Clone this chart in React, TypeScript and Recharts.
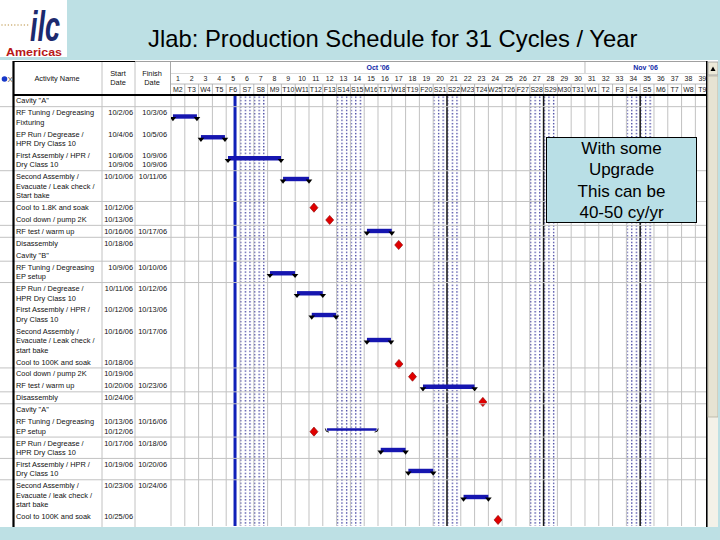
import React from "react";
import { ScatterChart, Scatter, XAxis, YAxis, ReferenceArea, ReferenceLine } from "recharts";

// ---------------- data ----------------
// timescale (one column per day, first column = Mon Oct 2 2006)
const dayLabels = [
  "M2", "T3", "W4", "T5", "F6", "S7", "S8", "M9", "T10", "W11", "T12", "F13", "S14", "S15",
  "M16", "T17", "W18", "T19", "F20", "S21", "S22", "M23", "T24", "W25", "T26", "F27", "S28",
  "S29", "M30", "T31", "W1", "T2", "F3", "S4", "S5", "M6", "T7", "W8", "T9",
];
const monthLabels = ["Oct '06", "Nov '06"];
const monthStart = [0, 30];
const visibleDays = 38.77;
const weekendStart = [5, 12, 19, 26, 33];
const weekLines = [20, 27, 34];
const statusDay = 4.64;

// table: one entry per text line
const activityNames = [
  'Cavity "A"', "RF Tuning / Degreasing", "Fixturing", "EP Run / Degrease /", "HPR Dry Class 10",
  "First Assembly / HPR /", "Dry Class 10", "Second Assembly /", "Evacuate / Leak check /", "Start bake",
  "Cool to 1.8K and soak", "Cool down / pump 2K", "RF test / warm up", "Disassembly", 'Cavity "B"',
  "RF Tuning / Degreasing", "EP setup", "EP Run / Degrease /", "HPR Dry Class 10",
  "First Assembly / HPR /", "Dry Class 10", "Second Assembly /", "Evacuate / Leak check /", "start bake",
  "Cool to 100K and soak", "Cool down / pump 2K", "RF test / warm up", "Disassembly", 'Cavity "A"',
  "RF Tuning / Degreasing", "EP setup", "EP Run / Degrease /", "HPR Dry Class 10",
  "First Assembly / HPR /", "Dry Class 10", "Second Assembly /", "Evacuate / leak check /", "start bake",
  "Cool to 100K and soak",
];
const startDates = [
  "", "10/2/06", "", "10/4/06", "", "10/6/06", "10/9/06", "10/10/06", "", "", "10/12/06", "10/13/06",
  "10/16/06", "10/18/06", "", "10/9/06", "", "10/11/06", "", "10/12/06", "", "10/16/06", "", "",
  "10/18/06", "10/19/06", "10/20/06", "10/24/06", "", "10/13/06", "10/12/06", "10/17/06", "",
  "10/19/06", "", "10/23/06", "", "", "10/25/06",
];
const finishDates = [
  "", "10/3/06", "", "10/5/06", "", "10/9/06", "10/9/06", "10/11/06", "", "", "", "", "10/17/06", "",
  "", "10/10/06", "", "10/12/06", "", "10/13/06", "", "10/17/06", "", "", "", "", "10/23/06", "", "",
  "10/16/06", "", "10/18/06", "", "10/20/06", "", "10/24/06", "", "", "",
];
// how many text lines each table row holds, and after which line a ruled separator is drawn
const rowLines = [1, 2, 2, 2, 3, 1, 1, 1, 1, 1, 2, 2, 2, 3, 1, 1, 1, 1, 1, 2, 2, 2, 3, 1];
const separatorAfterLine = [1, 7, 10, 12, 13, 15, 17, 25, 27, 28, 31, 33, 35];

// task bars: days from Oct 2, vertical position in table-line units
const barStart = [0.14, 2.17, 4.13, 8.12, 14.2, 7.17, 9.13, 10.2, 14.2, 18.26, 11.3, 15.2, 17.2, 21.2];
const barEnd = [1.88, 3.91, 7.97, 10.0, 16.0, 8.99, 11.0, 11.96, 15.94, 22.0, 14.9, 17.0, 19.0, 23.0];
const barRow = [1.68, 3.89, 6.13, 8.33, 13.86, 18.36, 20.49, 22.8, 25.46, 30.43, 34.98, 37.16, 39.39, 42.16];
const barKind = ["summary", "summary", "summary", "summary", "summary", "summary", "summary", "summary",
  "summary", "summary", "thin", "summary", "summary", "summary"];

// milestones
const milestoneDay = [10.36, 11.5, 16.5, 16.52, 17.5, 22.6, 10.36, 23.7];
const milestoneRow = [11.38, 12.69, 15.35, 28.01, 29.36, 32.05, 35.21, 44.6];

// ---------------- layout / style ----------------
const FONT = "'Liberation Sans', Arial, Helvetica, sans-serif";
const BAND = "#bde0e4";
const PLOT_L = 171;
const PLOT_R = 706;
const COL = (PLOT_R - PLOT_L) / visibleDays;
const GRID = "#c2c2c2";
const ROW_EXTRA = 0.271; // extra space between table rows, in line units

const linePos: number[] = [];
rowLines.forEach((n, r) => {
  for (let j = 0; j < n; j++) linePos.push(linePos.length + r * ROW_EXTRA);
});
const separatorPos = separatorAfterLine.map((n) => (linePos[n - 1] + linePos[n]) / 2);
const lineIndex = new Map<number, number>();
linePos.forEach((p, i) => lineIndex.set(p, i));
const yTicks = [...linePos, ...separatorPos];
const colCenters = dayLabels.map((_, i) => i + 0.5);
const dayBounds = dayLabels.map((_, i) => i);

const bars = barStart.map((s, k) => ({
  data: [
    { x: s, y: barRow[k], end: false, kind: barKind[k] },
    { x: barEnd[k], y: barRow[k], end: true, kind: barKind[k] },
  ],
  kind: barKind[k],
}));
const milestones = milestoneDay.map((d, k) => ({ x: d, y: milestoneRow[k] }));

const DayTick = (props: any) => {
  const { x, payload } = props;
  const i = Math.round(payload.value - 0.5);
  const parts: any[] = [];
  parts.push(
    <text key="n" x={x} y={80.5} textAnchor="middle" fontSize={7} fontFamily={FONT} fill="#222">
      {String(i + 1)}
    </text>
  );
  parts.push(
    <text key="d" x={x} y={92} textAnchor="middle" fontSize={7} fontFamily={FONT} fill="#222">
      {dayLabels[i]}
    </text>
  );
  parts.push(<line key="s" x1={x + COL / 2} x2={x + COL / 2} y1={84} y2={95} stroke="#a8a8a8" strokeWidth={0.8} />);
  monthLabels.forEach((m, k) => {
    const s = monthStart[k];
    const e = k + 1 < monthStart.length ? monthStart[k + 1] : visibleDays;
    const c = (s + e) / 2;
    if (i === Math.floor(c)) {
      parts.push(
        <text key={"m" + k} x={x + (c - (i + 0.5)) * COL} y={70} textAnchor="middle" fontSize={7}
          fontFamily={FONT} fill="#1028a8" fontWeight="bold">
          {m}
        </text>
      );
    }
    if (s > 0 && i === s) {
      parts.push(<line key={"mb" + k} x1={x - COL / 2} x2={x - COL / 2} y1={62} y2={73} stroke="#a8a8a8" strokeWidth={0.8} />);
    }
  });
  return <g>{parts}</g>;
};

const TableTick = (props: any) => {
  const { y, payload } = props;
  const v = payload.value;
  const i = lineIndex.get(v);
  if (i === undefined) {
    return <line x1={0} x2={PLOT_R} y1={y} y2={y} stroke={GRID} strokeWidth={1} />;
  }
  return (
    <g fontFamily={FONT} fontSize={7.4}>
      <text x={16} y={y} dy="0.35em" fill="#111">{activityNames[i]}</text>
      <text x={133} y={y} dy="0.35em" fill="#111" textAnchor="end">{startDates[i]}</text>
      <text x={167} y={y} dy="0.35em" fill="#111" textAnchor="end">{finishDates[i]}</text>
    </g>
  );
};

const BarCap = (p: any) => {
  const { cx, cy, payload } = p;
  if (cx == null || cy == null) return <g />;
  if (payload.kind === "thin") {
    const d = payload.end
      ? `M${cx - 2},${cy + 2.6} Q${cx + 1.6},${cy + 2.6} ${cx + 1.6},${cy - 1}`
      : `M${cx + 2},${cy + 2.6} Q${cx - 1.6},${cy + 2.6} ${cx - 1.6},${cy - 1}`;
    return <path d={d} stroke="#000" fill="none" strokeWidth={0.9} />;
  }
  return <polygon points={`${cx - 3.3},${cy + 0.6} ${cx + 3.3},${cy + 0.6} ${cx},${cy + 4.8}`} fill="#000" />;
};

const Diamond = (p: any) => {
  const { cx, cy } = p;
  if (cx == null || cy == null) return <g />;
  return (
    <polygon points={`${cx},${cy - 4.6} ${cx + 4},${cy} ${cx},${cy + 4.6} ${cx - 4},${cy}`}
      fill="#e00000" stroke="#8a0000" strokeWidth={0.6} />
  );
};

export default function App() {
  return (
    <div style={{ position: "fixed", left: 0, top: 0, width: 720, height: 540, background: "#fff", overflow: "hidden", fontFamily: FONT }}>
      <svg width={0} height={0} style={{ position: "absolute" }}>
        <defs>
          <pattern id="wkDots" patternUnits="userSpaceOnUse" width={4.6} height={3.3}>
            <rect x={1} y={0.8} width={1.2} height={1.4} fill="#2c2c96" />
          </pattern>
        </defs>
      </svg>

      <div style={{ position: "absolute", left: 0, top: 0, width: 720, height: 60, background: BAND }} />
      <div style={{ position: "absolute", left: 0, top: 527, width: 720, height: 13, background: BAND }} />

      <div style={{ position: "absolute", left: 0, top: 0 }}>
        <ScatterChart width={720} height={540} margin={{ top: 62, right: 14, bottom: 14, left: 0 }}>
          <XAxis type="number" dataKey="x" orientation="top" domain={[0, visibleDays]} ticks={colCenters}
            interval={0} height={33} axisLine={false} tickLine={false} tick={DayTick} allowDataOverflow />
          <YAxis type="number" dataKey="y" reversed domain={[-0.606, 45.245]} ticks={yTicks} interval={0}
            width={171} axisLine={false} tickLine={false} tick={TableTick} allowDataOverflow />
          {weekendStart.map((w) => (
            <ReferenceArea key={"w" + w} x1={w} x2={w + 2} fill="url(#wkDots)" fillOpacity={1} stroke="none" />
          ))}
          {dayBounds.map((d) => (
            <ReferenceLine key={"g" + d} x={d} stroke={GRID} strokeWidth={1} />
          ))}
          {weekLines.map((d) => (
            <ReferenceLine key={"k" + d} x={d} stroke="#1a1a1a" strokeWidth={1.5} />
          ))}
          <ReferenceLine x={statusDay} stroke="#1020b8" strokeWidth={3} />
          {bars.map((b, k) => (
            <Scatter key={"b" + k} data={b.data} isAnimationActive={false} fill="#1616b0"
              line={{ stroke: "#1616b0", strokeWidth: b.kind === "thin" ? 2.4 : 4.4 }} lineType="joint"
              shape={BarCap} />
          ))}
          <Scatter data={milestones} isAnimationActive={false} fill="#e00000" shape={Diamond} />
        </ScatterChart>
      </div>

      <svg width={720} height={540} style={{ position: "absolute", left: 0, top: 0, pointerEvents: "none" }}>
        {/* logo */}
        <rect x={0} y={0} width={67} height={57} fill="#fff" />
        {[2, 5.2, 8.4, 11.6, 14.8, 18, 21.2, 24.4, 27.6].map((dx) => (
          <circle key={dx} cx={dx} cy={25} r={0.75} fill="#c8a868" />
        ))}
        <text x={30} y={41} fontSize={43} fontStyle="italic" fontWeight="bold" fill="#1c2a6e"
          fontFamily={FONT} textLength={30} lengthAdjust="spacingAndGlyphs">ilc</text>
        <text x={6} y={55.5} fontSize={11.4} fontWeight="bold" fill="#b81818" fontFamily={FONT}
          textLength={56} lengthAdjust="spacingAndGlyphs">Americas</text>
        {/* title */}
        <text x={148} y={46.5} fontSize={23.8} fill="#000" fontFamily={FONT}>
          Jlab: Production Schedule for 31 Cycles / Year
        </text>

        {/* frame */}
        <line x1={13} x2={135} y1={61.5} y2={61.5} stroke="#000" strokeWidth={1.2} />
        <line x1={135} x2={706} y1={61.5} y2={61.5} stroke="#a0a0a0" strokeWidth={1} />
        <line x1={PLOT_L} x2={PLOT_R} y1={73.5} y2={73.5} stroke="#d0d0d0" strokeWidth={0.8} />
        <line x1={PLOT_L} x2={PLOT_R} y1={84} y2={84} stroke="#a8a8a8" strokeWidth={0.8} />
        <line x1={102} x2={102} y1={62} y2={527} stroke={GRID} strokeWidth={1} />
        <line x1={135} x2={135} y1={62} y2={527} stroke={GRID} strokeWidth={1} />
        <line x1={170.5} x2={170.5} y1={62} y2={95} stroke="#a8a8a8" strokeWidth={1} />
        <line x1={13} x2={707} y1={95} y2={95} stroke="#000" strokeWidth={2.2} />
        <line x1={13.5} x2={13.5} y1={61} y2={527} stroke="#000" strokeWidth={2.2} />
        <line x1={706.8} x2={706.8} y1={61} y2={527} stroke="#000" strokeWidth={1.6} />

        {/* header texts */}
        <circle cx={4.5} cy={79} r={2.8} fill="#1838c8" />
        <text x={7.5} y={82} fontSize={8} fill="#555" fontFamily={FONT}>X</text>
        <g fontFamily={FONT} fontSize={7.4} fill="#111" textAnchor="middle">
          <text x={57} y={80.5}>Activity Name</text>
          <text x={118} y={75.7}>Start</text>
          <text x={118} y={84.7}>Date</text>
          <text x={152} y={75.7}>Finish</text>
          <text x={152} y={84.7}>Date</text>
        </g>

        {/* scrollbar */}
        <rect x={708} y={62} width={10} height={465} fill="#f3f1e8" />
        <rect x={708} y={76} width={10} height={341} fill="#e6e3d3" stroke="#b4b1a2" strokeWidth={0.8} />
        <rect x={708} y={62} width={10} height={13} fill="#ece9d8" stroke="#9a9a9a" strokeWidth={0.8} />
        <polygon points="710.5,71 715.5,71 713,66.5" fill="#000" />
        <rect x={718} y={60} width={2} height={467} fill={BAND} />
      </svg>

      <div style={{
        position: "absolute", left: 546, top: 137, width: 151, height: 86, boxSizing: "border-box",
        border: "1px solid #000", background: "#b9dfe6", fontFamily: FONT, fontSize: 17,
        lineHeight: "21.3px", textAlign: "center", color: "#000",
      }}>
        <div>With some</div>
        <div>Upgrade</div>
        <div>This can be</div>
        <div>40-50 cy/yr</div>
      </div>
    </div>
  );
}
